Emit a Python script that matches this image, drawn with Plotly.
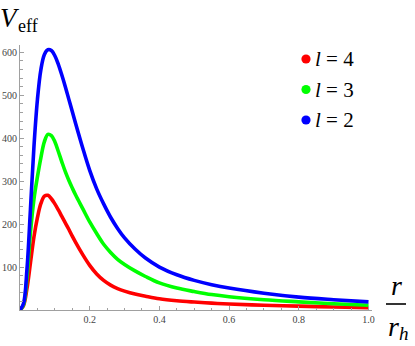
import plotly.graph_objects as go

# ---- data ----
r_over_rh = [0, 0.01, 0.02, 0.03, 0.04, 0.05, 0.06, 0.07, 0.08, 0.09, 0.10,
             0.11, 0.12, 0.13, 0.14, 0.15, 0.16, 0.18, 0.20, 0.22, 0.24,
             0.26, 0.28, 0.30, 0.33, 0.36, 0.40, 0.45, 0.50, 0.55, 0.60,
             0.70, 0.80, 0.90, 1.00]
V_l4 = [0, 10, 50, 110, 170, 215, 248, 265, 267, 259, 247,
        233, 218, 203, 188, 172, 157, 129, 104, 84, 69,
        58, 50, 44, 37, 32, 26, 21.5, 18.5, 16, 14,
        11, 9, 7, 5.5]
V_l3 = [0, 12, 75, 180, 258, 310, 355, 392, 409, 406, 392,
        369, 345, 322, 302, 284, 267, 236, 205, 178, 153,
        134, 118, 106, 91, 78, 63, 51, 43, 36, 31,
        24, 19, 14.5, 11]
V_l2 = [0, 15, 95, 235, 380, 490, 560, 595, 606, 604, 592,
        572, 547, 520, 491, 462, 433, 377, 325, 282, 247,
        216, 190, 168, 142, 121, 100, 82, 69, 59, 51,
        39, 30, 24, 19]

series_names = ["<i>l</i> = 4", "<i>l</i> = 3", "<i>l</i> = 2"]
series_colors = ["#FF0000", "#00FF00", "#0000FF"]
series_values = [V_l4, V_l3, V_l2]

x_tick_vals = [0.2, 0.4, 0.6, 0.8, 1.0]
x_tick_text = ["0.2", "0.4", "0.6", "0.8", "1.0"]
y_tick_vals = [100, 200, 300, 400, 500, 600]
y_tick_text = ["100", "200", "300", "400", "500", "600"]

SERIF = "Liberation Serif, Times New Roman, serif"

W, H = 415, 346
ML, MR, MT, MB = 20, 43, 45, 36
PW, PH = W - ML - MR, H - MT - MB

fig = go.Figure()
for name, color, vals in zip(series_names, series_colors, series_values):
    fig.add_trace(go.Scatter(
        x=r_over_rh, y=vals, mode="lines", name=name,
        line=dict(color=color, width=3.6, shape="spline", smoothing=1.0),
        showlegend=False, hoverinfo="skip"))

axis_common = dict(
    showgrid=False, zeroline=False, showline=True, automargin=False,
    linecolor="#a0a0a0", linewidth=1,
    ticks="inside", ticklen=4, tickwidth=1, tickcolor="#a0a0a0",
    tickfont=dict(family=SERIF, size=10, color="#444444"),
)

fig.update_xaxes(range=[0, 1.01], tickmode="array", tickvals=x_tick_vals,
                 ticktext=x_tick_text,
                 minor=dict(dtick=0.05, tick0=0, ticks="inside", ticklen=2.5,
                            tickcolor="#a0a0a0"),
                 **axis_common)
fig.update_yaxes(range=[0, 617], tickmode="array", tickvals=y_tick_vals,
                 ticktext=y_tick_text,
                 minor=dict(dtick=20, tick0=0, ticks="inside", ticklen=2.5,
                            tickcolor="#a0a0a0"),
                 **axis_common)

def px_x(p):
    return (p - ML) / PW

def px_y(p):
    return 1 - (p - MT) / PH

annotations = [
    dict(text="<i>V</i>", xref="paper", yref="paper", x=px_x(10), y=px_y(18),
         xanchor="center", yanchor="middle", showarrow=False,
         font=dict(family=SERIF, size=27, color="black")),
    dict(text="eff", xref="paper", yref="paper", x=px_x(16), y=px_y(26),
         xanchor="left", yanchor="middle", showarrow=False,
         font=dict(family=SERIF, size=18, color="black")),
    dict(text="<i>r</i>", xref="paper", yref="paper", x=px_x(396), y=px_y(285),
         xanchor="center", yanchor="middle", showarrow=False,
         font=dict(family=SERIF, size=28, color="black")),
    dict(text="<i>r</i>", xref="paper", yref="paper", x=px_x(393), y=px_y(326),
         xanchor="center", yanchor="middle", showarrow=False,
         font=dict(family=SERIF, size=28, color="black")),
    dict(text="<i>h</i>", xref="paper", yref="paper", x=px_x(404), y=px_y(333),
         xanchor="center", yanchor="middle", showarrow=False,
         font=dict(family=SERIF, size=19, color="black")),
]

shapes = [dict(type="line", xref="paper", yref="paper",
               x0=px_x(386), x1=px_x(406), y0=px_y(304), y1=px_y(304),
               line=dict(color="black", width=1.6))]

# legend: coloured dots + labels
legend_top_px = 59
legend_gap_px = 30.5
for i, (name, color) in enumerate(zip(series_names, series_colors)):
    y_px = legend_top_px + i * legend_gap_px
    shapes.append(dict(type="circle", xref="paper", yref="paper",
                       xsizemode="pixel", ysizemode="pixel",
                       xanchor=px_x(306), yanchor=px_y(y_px),
                       x0=-4.6, x1=4.6, y0=-4.6, y1=4.6,
                       fillcolor=color, line=dict(width=0)))
    annotations.append(dict(text=name, xref="paper", yref="paper",
                            x=px_x(313), y=px_y(y_px), xanchor="left",
                            yanchor="middle", showarrow=False,
                            font=dict(family=SERIF, size=21, color="black")))

fig.update_layout(
    width=W, height=H,
    margin=dict(l=ML, r=MR, t=MT, b=MB, autoexpand=False),
    paper_bgcolor="white", plot_bgcolor="white",
    annotations=annotations, shapes=shapes,
    showlegend=False,
)

fig.write_html(
    "out.html",
    config={"displayModeBar": False},
    post_script="document.body.style.margin='0';document.body.style.overflow='hidden';",
)
